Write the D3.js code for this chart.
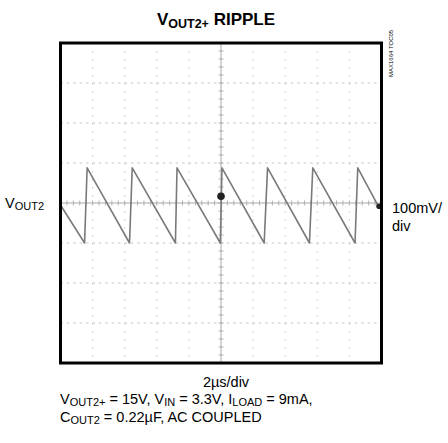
<!DOCTYPE html>
<html><head><meta charset="utf-8">
<script src="https://cdn.jsdelivr.net/npm/d3@7/dist/d3.min.js"></script>
<style>
html,body{margin:0;padding:0;background:#fff;}
svg{display:block;}
text{font-family:'Liberation Sans Narrow','Arial Narrow','Liberation Sans',sans-serif;fill:#000;}
</style></head>
<body>
<script>
// Data (time in µs, ripple in mV)
const timeUs   = [0, 1.5, 1.66, 4.30, 4.47, 7.16, 7.26, 9.96, 10.06, 12.69, 12.90, 15.51, 15.72, 18.35, 18.52, 19.8];
const rippleMv = [-5, -100, 88, -100, 88, -100, 88, -100, 88, -100, 88, -100, 88, -100, 88, -8];
const markerT = [10, 19.85];
const markerV = [17, -8];
const xDivs = d3.range(0, 21, 2);        // 2µs/div
const yDivs = d3.range(-400, 401, 100);  // 100mV/div

const W = 448, H = 443;
const svg = d3.select("body").append("svg").attr("width", W).attr("height", H);
const x = d3.scaleLinear().domain([0, 20]).range([60.5, 381.5]);
const y = d3.scaleLinear().domain([-400, 400]).range([363, 43]);

const g = svg.append("g");
// grid
g.selectAll(".vg").data(xDivs.slice(1, -1).filter(d => d !== 10)).enter().append("line")
  .attr("x1", d => x(d)).attr("x2", d => x(d)).attr("y1", y(400)).attr("y2", y(-400))
  .attr("stroke", "#c4c4c4").attr("stroke-width", 1).attr("stroke-dasharray", "1.5,6.5");
g.selectAll(".hg").data(yDivs.slice(1, -1).filter(d => d !== 0)).enter().append("line")
  .attr("y1", d => y(d)).attr("y2", d => y(d)).attr("x1", x(0)).attr("x2", x(20))
  .attr("stroke", "#c4c4c4").attr("stroke-width", 1).attr("stroke-dasharray", "2.5,3.9");
// center axes
g.append("line").attr("x1", x(10)).attr("x2", x(10)).attr("y1", y(400)).attr("y2", y(-400))
  .attr("stroke", "#a8a8a8").attr("stroke-width", 1);
g.append("line").attr("y1", y(0)).attr("y2", y(0)).attr("x1", x(0)).attr("x2", x(20))
  .attr("stroke", "#a8a8a8").attr("stroke-width", 1);
const xMinor = d3.range(0, 20.01, 0.4);
const yMinor = d3.range(-400, 400.1, 20);
g.selectAll(".xt").data(xMinor).enter().append("line")
  .attr("x1", d => x(d)).attr("x2", d => x(d)).attr("y1", y(0) - 2.5).attr("y2", y(0) + 2.5)
  .attr("stroke", "#b0b0b0");
g.selectAll(".yt").data(yMinor).enter().append("line")
  .attr("y1", d => y(d)).attr("y2", d => y(d)).attr("x1", x(10) - 2.5).attr("x2", x(10) + 2.5)
  .attr("stroke", "#b0b0b0");

// waveform
const line = d3.line().x((d, i) => x(timeUs[i])).y((d, i) => y(rippleMv[i]));
g.append("path").datum(rippleMv).attr("d", line)
  .attr("fill", "none").attr("stroke", "#7a7a7a").attr("stroke-width", 1.6).attr("stroke-linejoin", "round");
g.selectAll(".mk").data(markerT).enter().append("circle")
  .attr("cx", (d) => x(d)).attr("cy", (d, i) => y(markerV[i])).attr("r", (d, i) => i === 0 ? 3.8 : 2.8)
  .attr("fill", "#222");

// frame
svg.append("rect").attr("x", x(0)).attr("y", y(400)).attr("width", x(20) - x(0)).attr("height", y(-400) - y(400))
  .attr("fill", "none").attr("stroke", "#000").attr("stroke-width", 3);

// texts
const title = svg.append("text").attr("x", 216).attr("y", 25).attr("text-anchor", "middle")
  .attr("font-weight", "bold").attr("font-size", 17);
title.append("tspan").text("V");
title.append("tspan").attr("font-size", 12.5).attr("dy", 3).text("OUT2+");
title.append("tspan").attr("dy", -3).text(" RIPPLE");

const lv = svg.append("text").attr("x", 5).attr("y", 208).attr("font-size", 14.5);
lv.append("tspan").text("V");
lv.append("tspan").attr("font-size", 11).attr("dy", 2).text("OUT2");

svg.append("text").attr("x", 392).attr("y", 213).attr("font-size", 14.5).text("100mV/");
svg.append("text").attr("x", 392).attr("y", 231).attr("font-size", 14.5).text("div");

svg.append("text").attr("x", 226).attr("y", 387).attr("text-anchor", "middle").attr("font-size", 14.5).text("2µs/div");

const l1 = svg.append("text").attr("x", 60).attr("y", 404).attr("font-size", 14.5);
l1.append("tspan").text("V");
l1.append("tspan").attr("font-size", 11).attr("dy", 2).text("OUT2+");
l1.append("tspan").attr("dy", -2).text(" = 15V, V");
l1.append("tspan").attr("font-size", 11).attr("dy", 2).text("IN");
l1.append("tspan").attr("dy", -2).text(" = 3.3V, I");
l1.append("tspan").attr("font-size", 11).attr("dy", 2).text("LOAD");
l1.append("tspan").attr("dy", -2).text(" = 9mA,");

const l2 = svg.append("text").attr("x", 60).attr("y", 422).attr("font-size", 14.5);
l2.append("tspan").text("C");
l2.append("tspan").attr("font-size", 11).attr("dy", 2).text("OUT2");
l2.append("tspan").attr("dy", -2).text(" = 0.22µF, AC COUPLED");

svg.append("text").attr("transform", "translate(393,77) rotate(-90)").attr("font-size", 6)
  .attr("fill", "#555").text("MAX1664 TOC05");
</script>
</body></html>
